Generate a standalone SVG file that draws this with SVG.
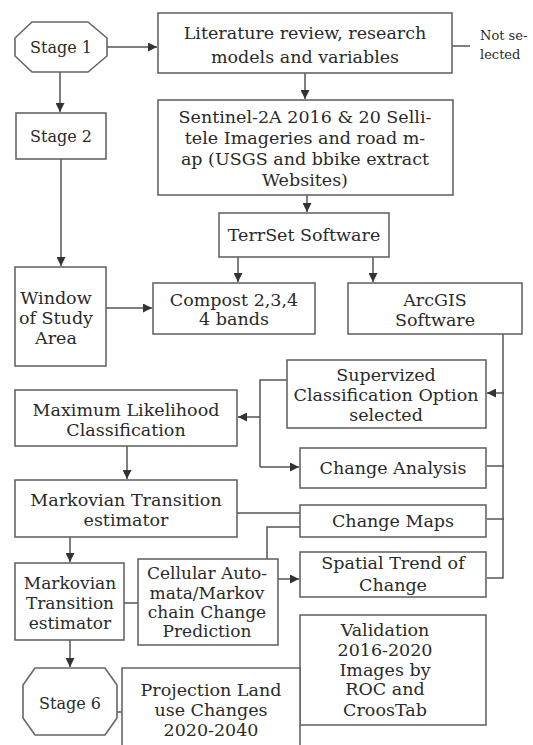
<svg xmlns="http://www.w3.org/2000/svg" width="533" height="745" viewBox="0 0 533 745">
<defs>
<marker id="ah" viewBox="0 0 10 10" refX="10" refY="5" markerWidth="9" markerHeight="9" markerUnits="userSpaceOnUse" orient="auto">
<path d="M0,0 L10,5 L0,10 z" fill="#333"/>
</marker>
<style>
.box{fill:#fff;stroke:#666;stroke-width:1.6}
.t{font-family:"DejaVu Serif","Liberation Serif",serif;font-size:17.5px;fill:#2a2a2a;text-anchor:middle}
.m{font-size:17px}
.s{font-family:"DejaVu Serif","Liberation Serif",serif;font-size:13px;fill:#2a2a2a}
.c{fill:none;stroke:#555;stroke-width:1.5}
.a{fill:none;stroke:#555;stroke-width:1.5;marker-end:url(#ah)}
</style>
</defs>
<rect width="533" height="745" fill="#fff"/>
<g id="connectors">
<path class="a" d="M107,47 H157"/>
<path class="c" d="M452,46 H470"/>
<path class="a" d="M60,72 V112"/>
<path class="a" d="M61,159 V266"/>
<path class="a" d="M305,73 V99"/>
<path class="a" d="M307,195 V212"/>
<path class="a" d="M238,257 V282"/>
<path class="a" d="M373,257 V282"/>
<path class="a" d="M106,308 H152"/>
<path class="c" d="M503,334 V578 H487"/>
<path class="a" d="M504,393 H487"/>
<path class="c" d="M504,466 H487"/>
<path class="c" d="M504,519 H487"/>
<path class="c" d="M287,380 H260 V467"/>
<path class="a" d="M260,467 H299"/>
<path class="a" d="M260,417 H238"/>
<path class="a" d="M127,446 V479"/>
<path class="c" d="M237,513 H300"/>
<path class="c" d="M300,527 H267 V559"/>
<path class="a" d="M278,579 H299"/>
<path class="a" d="M70,537 V562"/>
<path class="c" d="M124,603 H138"/>
<path class="a" d="M70,640 V667"/>
<path class="c" d="M117,712 H122"/>
</g>
<g id="stage1">
<polygon class="box" points="32,22 88,22 107,38 107,56 88,72 32,72 15,56 15,38"/>
<text class="t" x="61" y="53" style="font-size:16px">Stage 1</text>
</g>
<g id="literature">
<rect class="box" x="158" y="13" width="294" height="60"/>
<text class="t" x="305" y="39">Literature review, research</text>
<text class="t" x="305" y="63">models and variables</text>
</g>
<g id="not-selected">
<text class="s" x="480" y="40">Not se-</text>
<text class="s" x="480" y="59">lected</text>
</g>
<g id="stage2">
<rect class="box" x="16" y="113" width="90" height="46"/>
<text class="t" x="61" y="142" style="font-size:16px">Stage 2</text>
</g>
<g id="sentinel">
<rect class="box" x="158" y="100" width="295" height="95"/>
<text class="t" x="305" y="123">Sentinel-2A 2016 &amp; 20 Selli-</text>
<text class="t" x="305" y="144">tele Imageries and road m-</text>
<text class="t" x="305" y="165">ap (USGS and bbike extract</text>
<text class="t" x="305" y="186">Websites)</text>
</g>
<g id="terrset">
<rect class="box" x="219" y="213" width="170" height="44"/>
<text class="t" x="304" y="241">TerrSet Software</text>
</g>
<g id="window">
<rect class="box" x="15" y="267" width="91" height="99"/>
<text class="t" x="56" y="304">Window</text>
<text class="t" x="56" y="324">of Study</text>
<text class="t" x="56" y="344">Area</text>
</g>
<g id="compost">
<rect class="box" x="153" y="283" width="162" height="51"/>
<text class="t" x="234" y="306">Compost 2,3,4</text>
<text class="t" x="234" y="325">4 bands</text>
</g>
<g id="arcgis">
<rect class="box" x="348" y="283" width="174" height="51"/>
<text class="t" x="435" y="306">ArcGIS</text>
<text class="t" x="435" y="326">Software</text>
</g>
<g id="supervized">
<rect class="box" x="287" y="360" width="199" height="68"/>
<text class="t" x="386" y="381">Supervized</text>
<text class="t" x="386" y="401">Classification Option</text>
<text class="t" x="386" y="421">selected</text>
</g>
<g id="max-likelihood">
<rect class="box" x="15" y="390" width="222" height="56"/>
<text class="t" x="126" y="416">Maximum Likelihood</text>
<text class="t" x="126" y="436">Classification</text>
</g>
<g id="change-analysis">
<rect class="box" x="300" y="448" width="186" height="40"/>
<text class="t" x="393" y="474">Change Analysis</text>
</g>
<g id="markovian1">
<rect class="box" x="15" y="480" width="222" height="57"/>
<text class="t" x="126" y="506">Markovian Transition</text>
<text class="t" x="126" y="526">estimator</text>
</g>
<g id="change-maps">
<rect class="box" x="300" y="505" width="186" height="32"/>
<text class="t" x="393" y="527">Change Maps</text>
</g>
<g id="spatial-trend">
<rect class="box" x="300" y="552" width="186" height="45"/>
<text class="t" x="393" y="569">Spatial Trend of</text>
<text class="t" x="393" y="591">Change</text>
</g>
<g id="cellular">
<rect class="box" x="138" y="559" width="140" height="86"/>
<text class="t m" x="207" y="579">Cellular Auto-</text>
<text class="t m" x="207" y="599">mata/Markov</text>
<text class="t m" x="207" y="618">chain Change</text>
<text class="t m" x="207" y="637">Prediction</text>
</g>
<g id="markovian2">
<rect class="box" x="15" y="563" width="109" height="77"/>
<text class="t m" x="70" y="589">Markovian</text>
<text class="t m" x="70" y="609">Transition</text>
<text class="t m" x="70" y="629">estimator</text>
</g>
<g id="validation">
<rect class="box" x="300" y="615" width="186" height="110"/>
<text class="t" x="385" y="636">Validation</text>
<text class="t" x="385" y="656">2016-2020</text>
<text class="t" x="385" y="676">Images by</text>
<text class="t" x="385" y="695">ROC and</text>
<text class="t" x="385" y="716">CroosTab</text>
</g>
<g id="stage6">
<polygon class="box" points="35,668 105,668 117,685 117,718 105,735 35,735 23,718 23,685"/>
<text class="t" x="70" y="709" style="font-size:16px">Stage 6</text>
</g>
<g id="projection">
<path class="box" d="M122,750 V668 H300 V750"/>
<text class="t" x="211" y="696">Projection Land</text>
<text class="t" x="211" y="716">use Changes</text>
<text class="t" x="211" y="736">2020-2040</text>
</g>
</svg>
